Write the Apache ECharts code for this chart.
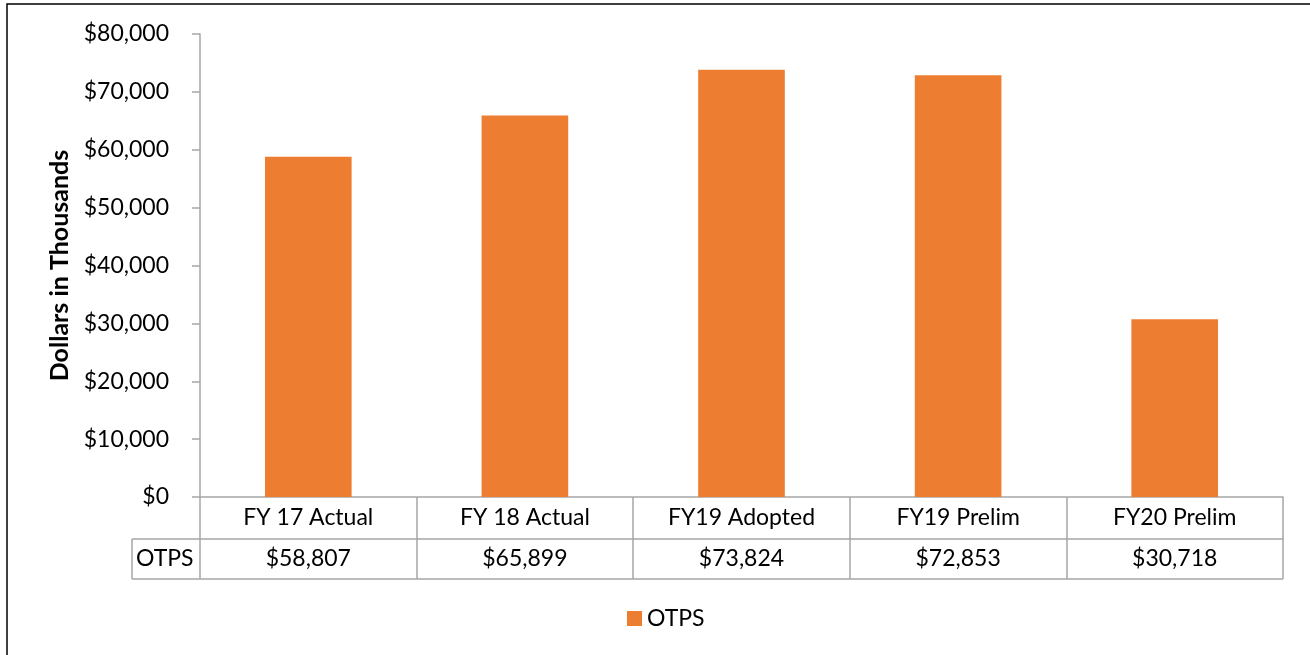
<!DOCTYPE html>
<html>
<head>
<meta charset="utf-8">
<script src="https://cdn.jsdelivr.net/npm/echarts@6/dist/echarts.min.js"></script>
<style>
  html, body { margin: 0; padding: 0; background: #fff; }
  #main { width: 1310px; height: 655px; }
</style>
</head>
<body>
<div id="main"></div>
<script>
// 数据
var categories = ['FY 17 Actual', 'FY 18 Actual', 'FY19 Adopted', 'FY19 Prelim', 'FY20 Prelim'];
var seriesName = 'OTPS';
var otps = [58807, 65899, 73824, 72853, 30718];
var yTicks = { min: 0, max: 80000, interval: 10000 };

var FONT = 'Lato';
var gridL = 200, gridR = 1283, gridT = 34, gridB = 497;
var rowH = 42, row2H = 40;
var headL = 132;
var lineCol = '#a6a6a6';

function money(v) {
    return '$' + v.toLocaleString('en-US');
}

var myChart = echarts.init(document.getElementById('main'));

var option = {
    backgroundColor: '#fff',
    animation: false,
    textStyle: { fontFamily: FONT },
    grid: {
        left: gridL,
        right: 1310 - gridR,
        top: gridT,
        bottom: 655 - gridB
    },
    legend: {
        data: [seriesName],
        left: 622,
        top: 602,
        icon: 'rect',
        itemWidth: 15,
        itemHeight: 15,
        itemGap: 6,
        textStyle: { fontFamily: FONT, fontSize: 23, color: '#000' }
    },
    xAxis: [{
        type: 'category',
        data: categories,
        position: 'bottom',
        axisLine: { lineStyle: { color: lineCol, width: 1.5 } },
        axisTick: {
            show: true,
            alignWithLabel: false,
            length: rowH + row2H,
            lineStyle: { color: lineCol, width: 1.5 }
        },
        axisLabel: { fontFamily: FONT, fontSize: 23, color: '#000', margin: 9 }
    }, {
        // 数据表第二行
        type: 'category',
        data: otps.map(money),
        position: 'bottom',
        offset: rowH,
        axisLine: { show: true, lineStyle: { color: lineCol, width: 1.5 } },
        axisTick: { show: false },
        axisLabel: { fontFamily: FONT, fontSize: 23, color: '#000', margin: 8 }
    }],
    yAxis: {
        type: 'value',
        min: yTicks.min,
        max: yTicks.max,
        interval: yTicks.interval,
        name: 'Dollars in Thousands',
        nameLocation: 'middle',
        nameGap: 127,
        nameTextStyle: { fontFamily: FONT, fontSize: 25, fontWeight: 'bold', color: '#000' },
        axisLine: { show: true, lineStyle: { color: lineCol, width: 1.5 } },
        axisTick: { show: true, length: 8, lineStyle: { color: lineCol, width: 1.5 } },
        splitLine: { show: false },
        axisLabel: {
            fontFamily: FONT, fontSize: 23, color: '#000', margin: 31,
            formatter: function (v) { return money(v); }
        }
    },
    series: [{
        name: seriesName,
        type: 'bar',
        data: otps,
        barWidth: '40%',
        itemStyle: { color: '#ed7d31' }
    }],
    graphic: [
        // 外框
        { type: 'rect', shape: { x: 7, y: 4, width: 1320, height: 700 }, style: { fill: 'none', stroke: '#000', lineWidth: 1.5 }, silent: true },
        // 表格左侧单元格
        { type: 'line', shape: { x1: headL, y1: gridB + rowH, x2: gridL, y2: gridB + rowH }, style: { stroke: lineCol, lineWidth: 1.5 } },
        { type: 'line', shape: { x1: headL, y1: gridB + rowH + row2H, x2: gridR, y2: gridB + rowH + row2H }, style: { stroke: lineCol, lineWidth: 1.5 } },
        { type: 'line', shape: { x1: headL, y1: gridB + rowH, x2: headL, y2: gridB + rowH + row2H }, style: { stroke: lineCol, lineWidth: 1.5 } },
        {
            type: 'text', left: headL + 4, top: gridB + rowH + 8,
            style: { text: seriesName, font: '23px ' + FONT, fill: '#000' }
        }
    ]
};

myChart.setOption(option);
</script>
</body>
</html>
